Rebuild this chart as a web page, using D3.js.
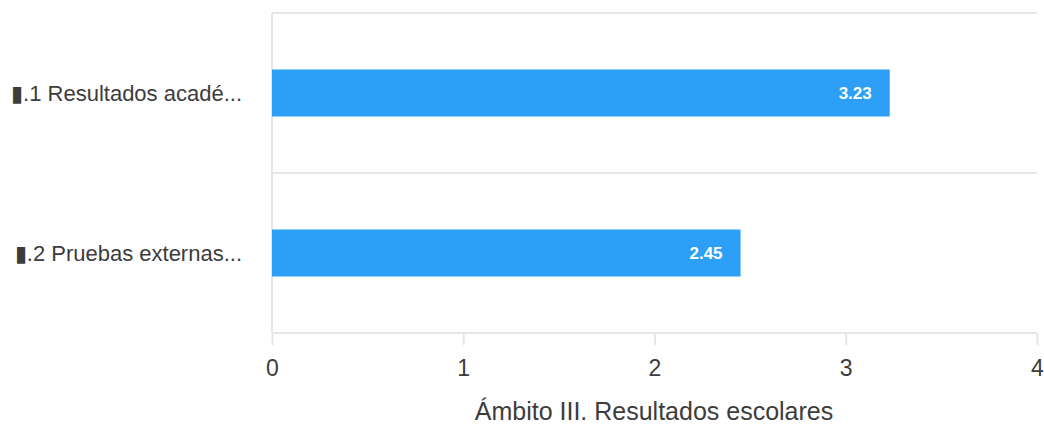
<!DOCTYPE html>
<html><head><meta charset="utf-8">
<script src="https://cdn.jsdelivr.net/npm/d3@7"></script>
<style>html,body{margin:0;padding:0;background:#fff;}svg{display:block;font-family:"Liberation Sans",Arial,sans-serif;}</style>
</head><body><svg id="c" width="1044" height="425"></svg>
<script>
const categories = ["▮.1 Resultados acadé...", "▮.2 Pruebas externas..."];
const values = [3.23, 2.45];
const valueLabels = ["3.23", "2.45"];
const xTicks = [0, 1, 2, 3, 4];
const xTitle = "Ámbito III. Resultados escolares";

const svg = d3.select("#c");
const L = 272, R = 1037, T = 13, B = 333;
const x = d3.scaleLinear().domain([0, 4]).range([L, R]);
const y = d3.scaleBand().domain(categories).range([T, B]).paddingInner(0).paddingOuter(0);
const grid = "#e6e6e6";

const seps = [T].concat(categories.map(c => y(c) + y.bandwidth()));
svg.selectAll("line.sep").data(seps).enter().append("line")
  .attr("x1", L).attr("x2", R).attr("y1", d => d).attr("y2", d => d)
  .attr("stroke", grid).attr("stroke-width", 2);
svg.append("line").attr("x1", L).attr("x2", L).attr("y1", T).attr("y2", B)
  .attr("stroke", grid).attr("stroke-width", 2);

const xAxis = d3.axisBottom(x).tickValues(xTicks).tickFormat(d3.format("d")).tickSize(12).tickPadding(15);
const gx = svg.append("g").attr("transform", `translate(0,${B})`).call(xAxis);
gx.select(".domain").remove();
gx.selectAll(".tick line").attr("stroke", grid).attr("stroke-width", 2);
gx.selectAll(".tick text").attr("fill", "#3c3c3c").style("font-size", "23px").style("font-family", '"Liberation Sans",Arial,sans-serif');

const bh = 47;
svg.selectAll("rect.bar").data(values).enter().append("rect")
  .attr("x", x(0)).attr("y", (d, i) => y(categories[i]) + y.bandwidth() / 2 - bh / 2)
  .attr("width", d => x(d) - x(0)).attr("height", bh).attr("fill", "#2d9ff7");

svg.selectAll("text.val").data(values).enter().append("text")
  .attr("x", d => x(d) - 18).attr("y", (d, i) => y(categories[i]) + y.bandwidth() / 2)
  .attr("dy", "0.35em").attr("text-anchor", "end").attr("fill", "#fff")
  .style("font-size", "17px").style("font-weight", "bold")
  .text((d, i) => valueLabels[i]);

svg.selectAll("text.cat").data(categories).enter().append("text")
  .attr("x", 242).attr("y", d => y(d) + y.bandwidth() / 2)
  .attr("dy", "0.35em").attr("text-anchor", "end").attr("fill", "#3c3c3c")
  .style("font-size", "22px").text(d => d);

svg.append("text").attr("x", 654).attr("y", 420).attr("text-anchor", "middle")
  .attr("fill", "#3c3c3c").style("font-size", "25px").text(xTitle);
</script></body></html>
